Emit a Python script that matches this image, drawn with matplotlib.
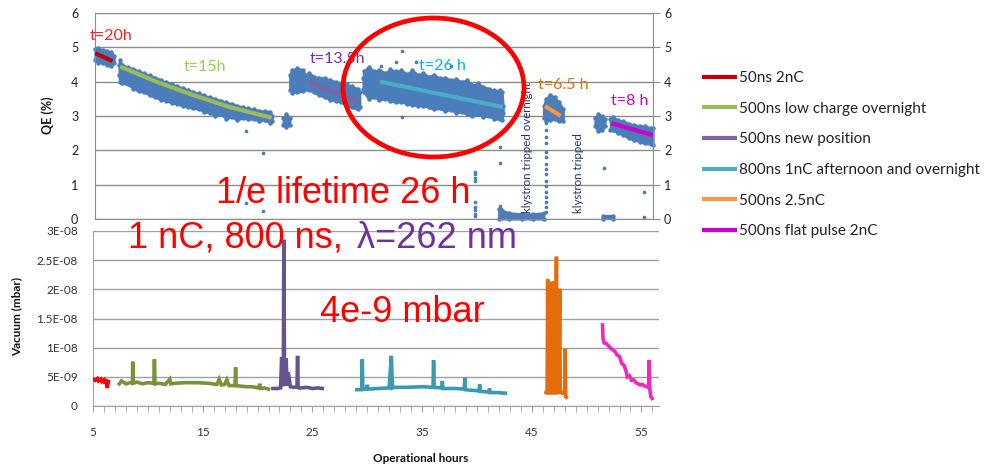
import matplotlib
matplotlib.use('Agg')
import matplotlib.pyplot as plt
from matplotlib.patches import Ellipse

plt.rcParams['font.family'] = ['Lato', 'DejaVu Sans']

# ---------------- data: QE (%) vs operational hours (top panel) ----------------
# point clouds given by their upper / lower envelopes
cloud_red_x = [5.0, 5.3, 5.7, 6.1, 6.5, 6.75]
cloud_red_hi = [4.95, 4.97, 4.93, 4.9, 4.85, 4.75]
cloud_red_lo = [4.62, 4.55, 4.55, 4.5, 4.47, 4.55]

cloud_green_x = [7.2, 7.25, 7.5, 8.0, 8.5, 9.0, 9.5, 10.0, 10.5, 11.0, 11.5, 12.0, 12.5, 13.0, 13.5,
                 14.0, 14.5, 15.0, 15.5, 16.0, 16.5, 17.0, 17.5, 18.0, 18.5, 19.0, 19.5, 20.0, 20.5,
                 21.0, 21.2]
cloud_green_hi = [4.5, 4.62, 4.5, 4.42, 4.38, 4.3, 4.25, 4.18, 4.12, 4.06, 3.98, 3.93, 3.87, 3.82, 3.76,
                  3.7, 3.66, 3.6, 3.55, 3.5, 3.45, 3.4, 3.36, 3.3, 3.27, 3.22, 3.2, 3.16, 3.14,
                  3.13, 3.0]
cloud_green_lo = [4.2, 4.0, 3.95, 3.92, 3.8, 3.72, 3.7, 3.6, 3.55, 3.47, 3.45, 3.38, 3.35, 3.3, 3.27,
                  3.22, 3.2, 3.12, 3.1, 3.0, 3.05, 2.92, 2.98, 2.88, 2.95, 2.9, 2.92, 2.85, 2.88,
                  2.8, 2.85]

cloud_small_x = [22.2, 22.5, 22.8]
cloud_small_hi = [2.95, 3.05, 2.95]
cloud_small_lo = [2.75, 2.68, 2.75]

cloud_pre_x = [22.8, 23.0, 23.5, 24.0, 24.2]
cloud_pre_hi = [4.2, 4.35, 4.39, 4.35, 4.2]
cloud_pre_lo = [3.75, 3.68, 3.7, 3.72, 3.8]

cloud_purple_x = [24.35, 24.6, 25.0, 25.5, 26.0, 26.5, 27.0, 27.5, 28.0, 28.5, 29.0, 29.2]
cloud_purple_hi = [4.2, 4.25, 4.15, 4.12, 4.1, 4.05, 4.0, 3.95, 3.92, 3.86, 3.8, 3.7]
cloud_purple_lo = [3.8, 3.75, 3.7, 3.6, 3.55, 3.47, 3.45, 3.4, 3.3, 3.25, 3.2, 3.25]

cloud_teal_x = [29.5, 29.55, 30.0, 30.5, 31.0, 31.5, 32.0, 32.5, 33.0, 33.5, 34.0, 34.5, 35.0, 35.5,
                36.0, 36.5, 37.0, 37.5, 38.0, 38.5, 39.0, 39.5, 40.0, 40.5, 41.0, 41.5, 42.0, 42.2, 42.3]
cloud_teal_hi = [4.1, 4.3, 4.44, 4.3, 4.35, 4.25, 4.36, 4.3, 4.34, 4.22, 4.34, 4.2, 4.25, 4.15,
                 4.2, 4.1, 4.12, 4.05, 4.08, 4.0, 4.05, 3.9, 3.95, 3.85, 3.8, 3.75, 3.75, 3.71, 3.3]
cloud_teal_lo = [3.8, 3.7, 3.5, 3.55, 3.47, 3.5, 3.45, 3.4, 3.42, 3.35, 3.32, 3.3, 3.3, 3.25,
                 3.2, 3.22, 3.15, 3.18, 3.1, 3.12, 3.05, 3.0, 3.05, 2.98, 3.0, 2.92, 2.9, 2.89, 3.1]

cloud_zero_x = [41.9, 42.8, 44.0, 45.0, 46.0]
cloud_zero_hi = [0.3, 0.18, 0.15, 0.15, 0.18]
cloud_zero_lo = [0.0, 0.0, 0.0, 0.0, 0.0]

cloud_orange_x = [46.0, 46.2, 46.6, 47.0, 47.4, 47.8]
cloud_orange_hi = [3.3, 3.5, 3.62, 3.55, 3.4, 3.2]
cloud_orange_lo = [2.95, 2.85, 2.89, 2.9, 2.85, 2.85]

cloud_pre8_x = [50.7, 51.0, 51.3, 51.6]
cloud_pre8_hi = [2.95, 3.06, 3.0, 2.9]
cloud_pre8_lo = [2.7, 2.55, 2.6, 2.7]

cloud_zero2_x = [51.4, 52.3]
cloud_zero2_hi = [0.1, 0.1]
cloud_zero2_lo = [0.0, 0.0]

cloud_mag_x = [52.1, 52.3, 52.8, 53.3, 53.8, 54.3, 54.8, 55.3, 55.8, 56.0]
cloud_mag_hi = [2.9, 2.98, 2.88, 2.85, 2.78, 2.74, 2.72, 2.7, 2.66, 2.64]
cloud_mag_lo = [2.6, 2.59, 2.5, 2.45, 2.35, 2.3, 2.25, 2.2, 2.18, 2.16]

# isolated QE points
qe_pts_x = [18.8, 20.4, 18.8, 20.4,
            30.5, 33.1, 32.5, 31.1, 33.1, 34.3, 37.5,
            39.7, 39.7, 39.7, 39.7, 39.7, 39.7, 39.7, 39.7, 39.7,
            42.0, 42.0, 42.0, 42.1, 42.2, 42.3,
            46.2, 46.2, 46.2, 46.2, 46.2, 46.2, 46.2, 46.2, 46.2, 46.2, 46.2, 46.2, 46.2, 46.2, 46.2, 46.2,
            51.5, 55.2, 55.2]
qe_pts_y = [2.55, 1.92, 0.46, 0.24,
            5.38, 4.88, 4.57, 4.47, 2.98, 4.56, 4.45,
            1.38, 1.3, 1.2, 1.1, 0.5, 0.35, 0.25, 0.15, 0.08,
            2.11, 1.62, 0.38, 0.3, 0.25, 0.2,
            2.8, 2.6, 2.4, 2.2, 1.95, 1.8, 1.6, 1.45, 1.3, 1.1, 0.95, 0.8, 0.65, 0.5, 0.35, 0.2,
            1.48, 0.8, 0.07]

# exponential fit lines
fit_red_x, fit_red_y = [5.0, 6.6], [4.83, 4.6]
fit_green_x, fit_green_y = [7.3, 10.6, 13.7, 17.3, 21.15], [4.44, 4.0, 3.64, 3.26, 2.95]
fit_purple_x, fit_purple_y = [24.5, 29.2], [4.0, 3.40]
fit_teal_x, fit_teal_y = [31.05, 42.27], [4.0, 3.26]
fit_orange_x, fit_orange_y = [46.13, 47.57], [3.29, 3.0]
fit_mag_x, fit_mag_y = [52.2, 56.0], [2.79, 2.44]

legend_labels = ['50ns 2nC', '500ns low charge overnight', '500ns new position',
                 '800ns 1nC afternoon and overnight', '500ns 2.5nC', '500ns flat pulse 2nC']

# ---------------- data: vacuum (units of 1e-9 mbar) ----------------
vac_red_x = [5.0, 5.2, 5.4, 5.5, 5.7, 5.8, 6.0, 6.1, 6.2, 6.3, 6.4]
vac_red_y = [4.6, 4.4, 4.7, 4.3, 4.6, 4.2, 4.5, 3.8, 4.6, 3.1, 4.2]

vac_green_x = [7.4, 7.6, 8.0, 8.4, 8.6, 8.62, 8.65, 9.0, 9.5, 10.0, 10.55, 10.6, 10.65, 11.0, 11.6,
               12.0, 12.1, 12.5, 13.5, 14.5, 15.5, 16.3, 16.5, 16.7, 17.0, 17.2, 17.4, 17.95, 18.0,
               18.05, 18.5, 19.0, 19.5, 20.1, 20.2, 20.3, 20.6, 21.0]
vac_green_y = [3.8, 4.3, 3.8, 4.0, 4.0, 7.6, 3.9, 4.1, 3.8, 4.0, 3.9, 8.0, 3.8, 3.9, 3.7,
               4.6, 3.8, 3.9, 4.0, 4.0, 3.9, 3.7, 4.6, 3.6, 3.7, 4.5, 3.5, 3.5, 6.6,
               3.5, 3.4, 3.3, 3.3, 3.1, 3.8, 3.0, 3.1, 2.9]

vac_purple_x = [21.4, 21.8, 22.1, 22.2, 22.25, 22.3, 22.35, 22.4, 22.45, 22.5, 22.6, 22.65, 22.7,
                22.8, 23.0, 23.3, 23.6, 23.65, 23.7, 23.75, 24.0, 24.5, 25.0, 25.5, 25.9]
vac_purple_y = [3.0, 3.0, 3.1, 8.4, 3.5, 8.2, 3.4, 28.5, 8.4, 3.6, 8.2, 6.0, 3.5,
                5.8, 3.3, 3.2, 3.3, 8.6, 3.2, 3.1, 3.1, 3.2, 3.0, 3.1, 3.0]

vac_teal_x = [29.06, 29.5, 29.55, 29.6, 29.65, 29.9, 30.0, 30.1, 31.0, 32.0, 32.1, 32.2, 32.25, 32.3,
              32.4, 33.5, 35.0, 36.0, 36.05, 36.1, 36.8, 36.85, 36.9, 38.0, 38.85, 38.9, 38.95,
              39.5, 40.2, 40.25, 40.3, 41.1, 41.15, 41.2, 41.8, 42.6]
vac_teal_y = [2.8, 2.8, 8.0, 2.9, 2.9, 2.9, 3.6, 2.9, 3.0, 3.1, 5.9, 8.6, 5.9, 3.1,
              3.2, 3.2, 3.3, 3.2, 7.8, 3.2, 3.1, 4.3, 3.0, 3.0, 2.9, 4.85, 2.8,
              2.7, 2.6, 3.7, 2.5, 2.4, 3.0, 2.3, 2.3, 2.2]

vac_orange_x = [46.3, 46.4, 46.45, 46.5, 46.7, 46.75, 46.8, 46.95, 47.0, 47.05, 47.15, 47.25, 47.3,
                47.45, 47.55, 47.6, 47.65, 47.8, 48.0, 48.05, 48.1, 48.15]
vac_orange_y = [2.3, 2.3, 21.7, 2.3, 2.3, 21.3, 2.3, 2.3, 21.4, 2.3, 2.3, 25.6, 2.3,
                2.3, 20.1, 2.3, 2.5, 2.2, 2.2, 9.8, 1.6, 1.5]

vac_mag_x = [51.45, 51.5, 51.6, 51.8, 52.0, 52.2, 52.4, 52.6, 52.8, 53.0, 53.2, 53.4, 53.6, 53.7,
             53.9, 54.1, 54.3, 54.5, 54.7, 54.9, 55.1, 55.3, 55.5, 55.65, 55.7, 55.75, 55.85, 55.97]
vac_mag_y = [13.9, 11.5, 10.8, 10.7, 10.3, 9.9, 9.6, 9.3, 8.7, 8.5, 7.3, 7.0, 6.0, 5.0,
             5.2, 4.4, 4.5, 4.0, 3.8, 3.6, 3.7, 3.4, 3.3, 3.2, 7.9, 3.2, 1.6, 1.3]

vac_ticks = [0, 5e-9, 1e-8, 1.5e-8, 2e-8, 2.5e-8, 3e-8]
vac_ticklabels = ['0', '5E-09', '1E-08', '1.5E-08', '2E-08', '2.5E-08', '3E-08']
x_ticks = [5, 15, 25, 35, 45, 55]
qe_ticks = [0, 1, 2, 3, 4, 5, 6]

# ---------------- figure ----------------
W, H = 986, 467
fig = plt.figure(figsize=(W / 100, H / 100), dpi=100)
fig.patch.set_facecolor('white')


def fx(px):
    return px / W


def fy(py):
    return 1 - py / H


GRID = '#8C8C8C'
BLUE = '#4A7DBA'
TICKC = '#333333'

ax1 = fig.add_axes([fx(95), fy(219), fx(653) - fx(95), fy(13) - fy(219)])
ax1.set_xlim(5, 56)
ax1.set_ylim(0, 6)
ax1.set_xticks([])
ax1.set_yticks(qe_ticks)
ax1.yaxis.grid(True, color=GRID, lw=1)
ax1.set_axisbelow(True)
for s in ax1.spines.values():
    s.set_color(GRID)
ax1.tick_params(axis='y', length=0, pad=12, labelsize=9, labelcolor='#222222')

ax1r = ax1.twinx()
ax1r.set_ylim(0, 6)
ax1r.set_yticks(qe_ticks)
for s in ax1r.spines.values():
    s.set_visible(False)
ax1r.tick_params(axis='y', length=5, color=GRID, pad=3, labelsize=9, labelcolor='#222222')

clouds = [
    (cloud_red_x, cloud_red_lo, cloud_red_hi),
    (cloud_green_x, cloud_green_lo, cloud_green_hi),
    (cloud_small_x, cloud_small_lo, cloud_small_hi),
    (cloud_pre_x, cloud_pre_lo, cloud_pre_hi),
    (cloud_purple_x, cloud_purple_lo, cloud_purple_hi),
    (cloud_teal_x, cloud_teal_lo, cloud_teal_hi),
    (cloud_zero_x, cloud_zero_lo, cloud_zero_hi),
    (cloud_orange_x, cloud_orange_lo, cloud_orange_hi),
    (cloud_pre8_x, cloud_pre8_lo, cloud_pre8_hi),
    (cloud_zero2_x, cloud_zero2_lo, cloud_zero2_hi),
    (cloud_mag_x, cloud_mag_lo, cloud_mag_hi),
]
for xs, lo, hi in clouds:
    ax1.fill_between(xs, lo, hi, facecolor=BLUE, edgecolor=BLUE, lw=1.6, zorder=2, clip_on=False)
    ax1.plot(xs, hi, ls='none', marker='o', ms=2.2, color=BLUE, zorder=2, clip_on=False)
    ax1.plot(xs, lo, ls='none', marker='o', ms=2.2, color=BLUE, zorder=2, clip_on=False)
ax1.scatter(qe_pts_x, qe_pts_y, s=7, color=BLUE, zorder=2, linewidths=0)

fit_colors = ['#C00000', '#9BBB59', '#8064A2', '#4BACC6', '#F79646', '#CC00CC']
fits = [(fit_red_x, fit_red_y), (fit_green_x, fit_green_y), (fit_purple_x, fit_purple_y),
        (fit_teal_x, fit_teal_y), (fit_orange_x, fit_orange_y), (fit_mag_x, fit_mag_y)]
handles = []
for (xs, ys), c, lab in zip(fits, fit_colors, legend_labels):
    ln, = ax1.plot(xs, ys, color=c, lw=3, solid_capstyle='butt', zorder=3, label=lab)
    handles.append(ln)

# t= labels
lab_kw = dict(fontsize=11.5, va='center', ha='left', zorder=5)
ax1.text(4.55, 5.34, 't=20h', color='#FF2020', **lab_kw)
ax1.text(13.07, 4.44, 't=15h', color='#92D050', **lab_kw)
ax1.text(24.65, 4.66, 't=13.5h', color='#7030A0', **lab_kw)
ax1.text(34.6, 4.46, 't=26 h', color='#00B0F0', **lab_kw)
ax1.text(45.47, 3.89, 't=6.5 h', color='#E46C0A', **lab_kw)
ax1.text(52.17, 3.44, 't=8 h', color='#CC00CC', **lab_kw)

ax1.text(44.55, 0.17, 'klystron tripped overnight', rotation=90, ha='center', va='bottom',
         fontsize=8.3, color='#1F3864', zorder=5)
ax1.text(49.2, 0.17, 'klystron tripped', rotation=90, ha='center', va='bottom',
         fontsize=8.3, color='#1F3864', zorder=5)

ax1.legend(handles=handles, loc='upper left', bbox_to_anchor=(fx(702), fy(71)),
           bbox_transform=fig.transFigure, frameon=False, fontsize=11,
           handlelength=2.29, handletextpad=0.13, labelspacing=1.09,
           borderpad=0, borderaxespad=0, labelcolor='#222222')

# ---------------- bottom panel ----------------
ax2 = fig.add_axes([fx(93), fy(406), fx(659) - fx(93), fy(231) - fy(406)])
ax2.set_xlim(5, 56.6)
ax2.set_ylim(0, 3e-8)
ax2.set_yticks(vac_ticks)
ax2.set_yticklabels(vac_ticklabels)
ax2.set_xticks(x_ticks)
ax2.set_xticks(range(5, 57), minor=True)
ax2.yaxis.grid(True, color='#A0A0A0', lw=1)
ax2.set_axisbelow(True)
ax2.spines['top'].set_visible(False)
ax2.spines['right'].set_visible(False)
ax2.spines['left'].set_color('#A0A0A0')
ax2.spines['bottom'].set_color('#A0A0A0')
ax2.tick_params(axis='y', length=0, pad=11, labelsize=8.5, labelcolor=TICKC)
ax2.tick_params(axis='x', which='both', direction='out', length=4, color='#A0A0A0',
                pad=11, labelsize=8.5, labelcolor=TICKC)

vac_series = [
    (vac_red_x, vac_red_y, '#FF0000'),
    (vac_green_x, vac_green_y, '#77933C'),
    (vac_purple_x, vac_purple_y, '#65558F'),
    (vac_teal_x, vac_teal_y, '#3A9AB2'),
    (vac_orange_x, vac_orange_y, '#E46C0A'),
    (vac_mag_x, vac_mag_y, '#F028C0'),
]
for xs, ys, c in vac_series:
    ax2.plot(xs, [v * 1e-9 for v in ys], color=c, lw=2.6, solid_joinstyle='miter', zorder=3)

# axis titles
fig.text(fx(48), fy(115), 'QE (%)', rotation=90, ha='center', va='center',
         fontsize=9, fontweight='bold', color='#111111')
fig.text(fx(17), fy(317), 'Vacuum (mbar)', rotation=90, ha='center', va='center',
         fontsize=8.5, fontweight='bold', color='#111111')
fig.text(fx(421), fy(459), 'Operational hours', ha='center', va='center',
         fontsize=8.5, fontweight='bold', color='#111111')

# big annotations
big = dict(fontsize=26, family=['Liberation Sans', 'DejaVu Sans'], va='baseline', ha='left', zorder=20)
fig.text(fx(216), fy(203), '1/e lifetime 26 h', color='#FF0000', **big)
fig.text(fx(128), fy(248), '1 nC, 800 ns, ', color='#FF0000', **big)
fig.text(fx(357), fy(248), 'λ=262 nm', color='#7030A0', **big)
fig.text(fx(320), fy(322), '4e-9 mbar', color='#FF0000', **big)

fig.add_artist(Ellipse((fx(433.5), fy(87.5)), width=181 / W, height=139 / H, fill=False,
                       edgecolor='#FF0000', lw=3.4, transform=fig.transFigure, zorder=15))

fig.savefig('out.png', dpi=100)
